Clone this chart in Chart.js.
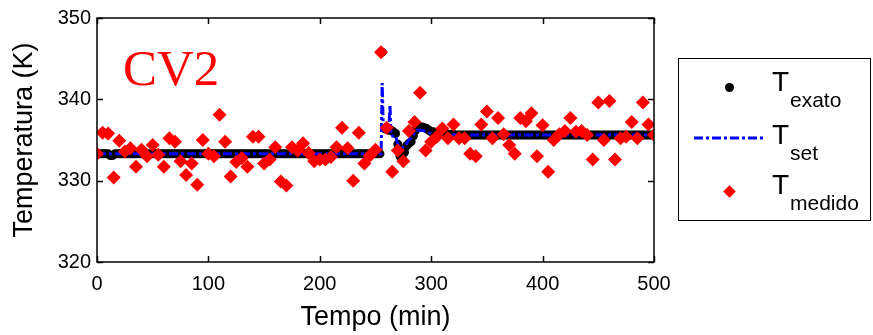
<!DOCTYPE html>
<html>
<head>
<meta charset="utf-8">
<script src="https://cdn.jsdelivr.net/npm/chart.js@4.4.1/dist/chart.umd.min.js"></script>
<style>
  body { margin: 0; background: #fff; }
  #wrap { position: relative; width: 873px; height: 335px; background: #fff; font-family: "Liberation Sans", Arial, sans-serif; }
  #cv2 { position: absolute; left: 123px; top: 43px; font-family: "Liberation Serif", "Times New Roman", serif; font-size: 51px; line-height: 1; color: #ff0000; }
  #legend { position: absolute; left: 678px; top: 58px; width: 193px; height: 163px; border: 1.5px solid #000; box-sizing: border-box; }
  .big { position: absolute; font-size: 28px; line-height: 1; color: #000; }
  .sub { position: absolute; font-size: 21px; line-height: 1; color: #000; }
</style>
</head>
<body>
<div id="wrap">
  <canvas id="myChart" width="873" height="335"></canvas>
  <div id="cv2">CV2</div>
  <div id="legend"></div>
  <div class="big" style="left:772px;top:68px">T</div><div class="sub" style="left:790px;top:89px">exato</div>
  <div class="big" style="left:772px;top:121px">T</div><div class="sub" style="left:790px;top:142px">set</div>
  <div class="big" style="left:772px;top:171px">T</div><div class="sub" style="left:790px;top:192px">medido</div>
  <div style="position:absolute;left:725px;top:83px;width:9px;height:9px;border-radius:50%;background:#000"></div>
  <svg style="position:absolute;left:694px;top:133px" width="74" height="10"><line x1="0" y1="5" x2="72" y2="5" stroke="#0000ff" stroke-width="3" stroke-dasharray="9,3,3,3"/></svg>
  <div style="position:absolute;left:725px;top:187px;width:9px;height:9px;background:#ff0000;transform:rotate(45deg)"></div>
</div>
<script>
// T medido (red diamonds)
const tMedido = [0,5,10,15,20,25,30,35,40,45,50,55,60,65,70,75,80,85,90,95,
  100,105,110,115,120,125,130,135,140,145,150,155,160,165,170,175,180,185,190,195,
  200,205,210,215,220,225,230,235,240,245,250,255,260,265,270,275,280,285,290,295,
  300,305,310,315,320,325,330,335,340,345,350,355,360,365,370,375,380,385,390,395,
  400,405,410,415,420,425,430,435,440,445,450,455,460,465,470,475,480,485,490,495,500];
const tempMedido = [333.3,335.9,335.8,330.4,334.9,333.6,334.0,331.7,333.8,333.0,334.4,333.2,331.7,335.2,334.8,332.4,330.7,332.1,329.5,335.0,
  333.3,333.0,338.1,334.8,330.5,332.3,332.8,331.7,335.4,335.4,332.1,332.6,334.1,329.9,329.4,334.1,333.7,334.6,333.4,332.4,
  332.6,332.6,332.9,334.1,336.5,334.0,330.0,335.9,332.1,333.1,333.8,345.8,336.5,331.1,333.7,332.4,336.1,337.2,340.8,333.7,
  334.8,335.4,336.4,335.2,336.9,335.2,335.2,333.3,333.0,336.9,338.5,335.2,337.7,335.7,334.4,333.3,337.7,337.3,338.3,333.0,
  336.8,331.1,335.0,335.7,336.1,337.7,336.0,336.1,335.6,332.6,339.6,335.0,339.8,332.6,335.2,335.4,337.2,335.2,339.6,336.9,335.6];

// T set (blue dash-dot)
const tSet = [0,255,256,257,262,263,264,268,270,273,276,279,283,287,292,300,320,500];
const tempSet = [333.3,333.3,342.0,336.5,336.2,339.3,335.5,335.5,334.5,334.0,334.2,334.8,335.5,336.2,336.2,335.8,335.6,335.6];

// T exato (black dots, every 2 min)
const tExato = [0,2,4,6,8,10,12,14,16,18,20,22,24,26,28,30,32,34,36,38,40,42,44,46,48,
  50,52,54,56,58,60,62,64,66,68,70,72,74,76,78,80,82,84,86,88,90,92,94,96,98,
  100,102,104,106,108,110,112,114,116,118,120,122,124,126,128,130,132,134,136,138,140,142,144,146,148,
  150,152,154,156,158,160,162,164,166,168,170,172,174,176,178,180,182,184,186,188,190,192,194,196,198,
  200,202,204,206,208,210,212,214,216,218,220,222,224,226,228,230,232,234,236,238,240,242,244,246,248,
  250,252,254,256,258,260,262,264,266,268,270,272,274,276,278,280,282,284,286,288,290,292,294,296,298,
  300,302,304,306,308,310,312,314,316,318,320,322,324,326,328,330,332,334,336,338,340,342,344,346,348,
  350,352,354,356,358,360,362,364,366,368,370,372,374,376,378,380,382,384,386,388,390,392,394,396,398,
  400,402,404,406,408,410,412,414,416,418,420,422,424,426,428,430,432,434,436,438,440,442,444,446,448,
  450,452,454,456,458,460,462,464,466,468,470,472,474,476,478,480,482,484,486,488,490,492,494,496,498,500];
const tempExato = [333.3,333.3,333.3,333.3,333.3,333.3,333.1,333.1,333.3,333.3,333.3,333.3,333.3,333.3,333.3,333.3,333.3,333.3,333.3,333.3,333.3,333.3,333.3,333.3,333.3,
  333.3,333.3,333.3,333.3,333.3,333.3,333.3,333.3,333.3,333.3,333.3,333.3,333.3,333.3,333.3,333.3,333.3,333.3,333.3,333.3,333.3,333.3,333.3,333.3,333.3,
  333.3,333.3,333.3,333.3,333.3,333.3,333.3,333.3,333.3,333.3,333.3,333.3,333.3,333.3,333.3,333.3,333.3,333.3,333.3,333.3,333.3,333.3,333.3,333.3,333.3,
  333.3,333.3,333.3,333.3,333.3,333.3,333.3,333.3,333.3,333.3,333.3,333.3,333.3,333.3,333.3,333.3,333.3,333.3,333.3,333.3,333.3,333.3,333.3,333.3,333.3,
  333.3,333.3,333.3,333.3,333.3,333.3,333.3,333.3,333.3,333.3,333.3,333.3,333.3,333.3,333.3,333.3,333.3,333.3,333.3,333.3,333.3,333.3,333.3,333.3,333.3,
  333.3,333.3,333.3,345.8,336.4,336.3,336.2,336.2,336.0,335.8,334.5,333.0,332.8,333.5,334.3,334.6,334.8,335.5,336.2,336.5,336.6,336.6,336.5,336.4,336.2,
  336.0,336.0,335.9,335.9,335.8,335.8,335.7,335.7,335.7,335.7,335.7,335.6,335.6,335.6,335.6,335.6,335.6,335.6,335.6,335.6,335.6,335.6,335.6,335.6,335.6,
  335.6,335.6,335.6,335.6,335.6,335.6,335.6,335.6,335.6,335.6,335.6,335.6,335.6,335.6,335.6,335.6,335.6,335.6,335.6,335.6,335.6,335.6,335.6,335.6,335.6,
  335.6,335.6,335.6,335.6,335.6,335.6,335.6,335.6,335.6,335.6,335.6,335.6,335.6,335.6,335.6,335.6,335.6,335.6,335.6,335.6,335.6,335.6,335.6,335.6,335.6,
  335.6,335.6,335.6,335.6,335.6,335.6,335.6,335.6,335.6,335.6,335.6,335.6,335.6,335.6,335.6,335.6,335.6,335.6,335.6,335.6,335.6,335.6,335.6,335.6,335.6,335.6];

const xTicks = [0,100,200,300,400,500];
const yTicks = [320,330,340,350];

function pts(xs, ys) { return xs.map((x, i) => ({x: x, y: ys[i]})); }

// box around the plot and inward tick marks, matlab style
const frame = {
  id: 'frame',
  afterDraw(chart) {
    const c = chart.ctx, a = chart.chartArea;
    const xs = chart.scales.x, ys = chart.scales.y;
    c.save();
    c.strokeStyle = '#000';
    c.lineWidth = 1.5;
    c.strokeRect(a.left, a.top, a.right - a.left, a.bottom - a.top);
    c.beginPath();
    xTicks.forEach(v => {
      const p = Math.round(xs.getPixelForValue(v)) + 0.5;
      c.moveTo(p, a.bottom); c.lineTo(p, a.bottom - 6);
      c.moveTo(p, a.top); c.lineTo(p, a.top + 6);
    });
    yTicks.forEach(v => {
      const p = Math.round(ys.getPixelForValue(v)) + 0.5;
      c.moveTo(a.left, p); c.lineTo(a.left + 6, p);
      c.moveTo(a.right, p); c.lineTo(a.right - 6, p);
    });
    c.stroke();
    c.restore();
  }
};

const ctx = document.getElementById('myChart');
new Chart(ctx, {
  type: 'scatter',
  data: {
    datasets: [{
      label: 'T exato',
      data: pts(tExato, tempExato),
      backgroundColor: '#000',
      borderColor: '#000',
      pointStyle: 'circle',
      pointRadius: 4.5,
      borderWidth: 0,
      order: 3
    }, {
      label: 'T set',
      data: pts(tSet, tempSet),
      showLine: true,
      borderColor: '#0000ff',
      borderWidth: 3,
      borderDash: [9, 3, 3, 3],
      pointRadius: 0,
      tension: 0,
      order: 2
    }, {
      label: 'T medido',
      data: pts(tMedido, tempMedido),
      backgroundColor: '#ff0000',
      borderColor: '#ff0000',
      pointStyle: 'rectRot',
      pointRadius: 7,
      borderWidth: 0,
      order: 1
    }]
  },
  options: {
    responsive: false,
    animation: false,
    devicePixelRatio: 1,
    layout: { padding: { left: 0, right: 219, top: 12, bottom: 0 } },
    scales: {
      x: {
        type: 'linear', min: 0, max: 500,
        afterFit: s => { s.height = 73; },
        afterBuildTicks: s => { s.ticks = xTicks.map(v => ({value: v})); },
        grid: { display: false, drawTicks: false }, border: { display: false },
        ticks: { color: '#000', font: { family: 'Liberation Sans', size: 20 }, padding: 10, maxRotation: 0 },
        title: { display: true, text: 'Tempo (min)', color: '#000', font: { family: 'Liberation Sans', size: 27 }, padding: { top: 0, bottom: 1 } }
      },
      y: {
        type: 'linear', min: 320, max: 350,
        afterFit: s => { s.width = 97; },
        afterBuildTicks: s => { s.ticks = yTicks.map(v => ({value: v})); },
        grid: { display: false, drawTicks: false }, border: { display: false },
        ticks: { color: '#000', font: { family: 'Liberation Sans', size: 20 }, padding: 6 },
        title: { display: true, text: 'Temperatura (K)', color: '#000', font: { family: 'Liberation Sans', size: 27 }, padding: { top: 8, bottom: 4 } }
      }
    },
    plugins: { legend: { display: false }, tooltip: { enabled: false } }
  },
  plugins: [frame]
});
</script>
</body>
</html>
